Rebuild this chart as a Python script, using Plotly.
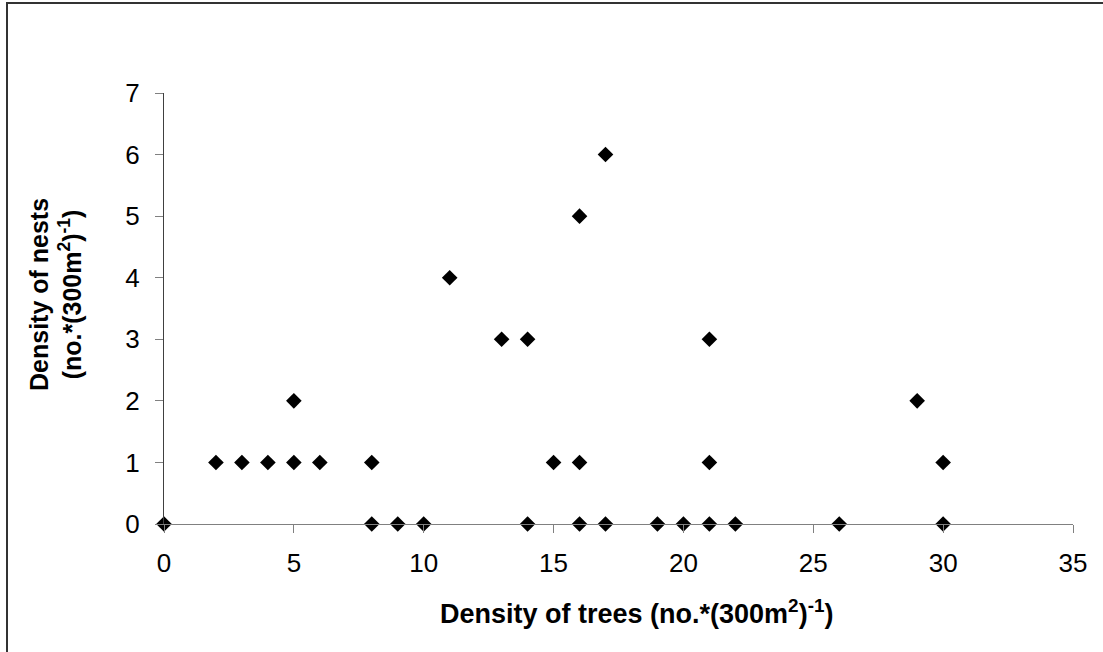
import plotly.graph_objects as go

# Data
tree_density = [0, 2, 3, 4, 5, 5, 6, 8, 8, 9, 10, 11, 13, 14, 14, 15, 16, 16, 16,
                17, 17, 19, 20, 21, 21, 21, 22, 26, 29, 30, 30]
nest_density = [0, 1, 1, 1, 1, 2, 1, 1, 0, 0, 0, 4, 3, 3, 0, 1, 5, 1, 0,
                 6, 0, 0, 0, 3, 1, 0, 0, 0, 2, 1, 0]
x_ticks = [0, 5, 10, 15, 20, 25, 30, 35]
y_ticks = [0, 1, 2, 3, 4, 5, 6, 7]
x_title = "Density of trees (no.*(300m<sup>2</sup>)<sup>-1</sup>)"
y_title = "Density of nests<br>(no.*(300m<sup>2</sup>)<sup>-1</sup>)"

W, H = 1103, 652
ML, MR, MT, MB = 164, 30, 93, 128
PW = W - ML - MR
PH = H - MT - MB


def px_x(px):
    return (px - ML) / PW


def px_y(py):
    return (H - MB - py) / PH


FONT = "Liberation Sans, Arial, sans-serif"

fig = go.Figure()
fig.add_trace(go.Scatter(
    x=tree_density, y=nest_density, mode="markers",
    marker=dict(symbol="diamond", size=12, color="black", line=dict(width=0)),
    cliponaxis=False, showlegend=False,
))

fig.update_layout(
    width=W, height=H,
    margin=dict(l=ML, r=MR, t=MT, b=MB),
    paper_bgcolor="white", plot_bgcolor="white",
    font=dict(family=FONT, size=26, color="black"),
    xaxis=dict(
        range=[0, 35], tickvals=x_ticks, showgrid=False, zeroline=False,
        showline=True, linecolor="#808080", linewidth=1,
        ticks="outside", ticklen=8, tickcolor="#808080", tickwidth=1,
        tickfont=dict(size=26, family=FONT), ticklabelstandoff=8,
    ),
    yaxis=dict(
        range=[0, 7], tickvals=y_ticks, showgrid=False, zeroline=False,
        showline=True, linecolor="#404040", linewidth=1,
        ticks="outside", ticklen=8, tickcolor="#808080", tickwidth=1,
        tickfont=dict(size=26, family=FONT), ticklabelstandoff=10,
    ),
    annotations=[
        dict(text="<b>" + x_title + "</b>", xref="paper", yref="paper",
             x=px_x(636), y=px_y(612), xanchor="center", yanchor="middle",
             showarrow=False, font=dict(size=27, family=FONT)),
        dict(text="<b>" + y_title + "</b>", xref="paper", yref="paper",
             x=px_x(55), y=px_y(295), xanchor="center", yanchor="middle",
             textangle=-90, showarrow=False, font=dict(size=25, family=FONT)),
    ],
    shapes=[
        dict(type="rect", xref="paper", yref="paper",
             x0=px_x(7), x1=px_x(1110), y0=px_y(3), y1=px_y(660),
             line=dict(color="#333333", width=2), fillcolor="rgba(0,0,0,0)"),
    ],
)

fig.write_html("out.html")
